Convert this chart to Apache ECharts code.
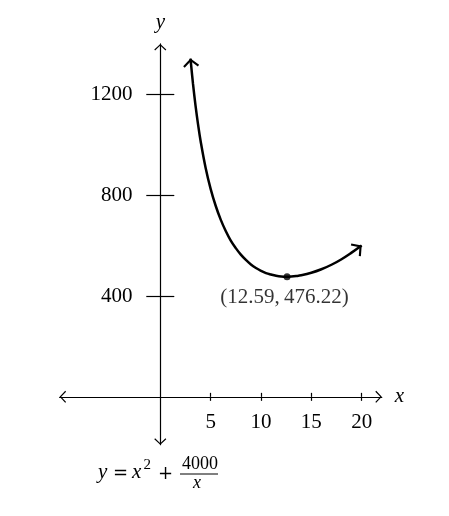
<!DOCTYPE html>
<html><head><meta charset="utf-8">
<script src="https://cdn.jsdelivr.net/npm/echarts@6/dist/echarts.min.js"></script>
<style>html,body{margin:0;padding:0;background:#fff}#c{width:449px;height:516px}</style>
</head><body><div id="c"></div><script>
// ---- data ----
const curveX = [3, 3.25, 3.5, 3.75, 4, 4.5, 5, 5.5, 6, 6.5, 7, 7.5, 8, 8.5, 9, 9.5, 10, 10.5, 11, 11.5, 12, 12.59, 13, 13.5, 14, 15, 16, 17, 18, 19, 20];
const curveY = [1342, 1241, 1155, 1081, 1016, 909, 825, 758, 703, 658, 620, 590, 564, 543, 525, 511, 500, 491, 485, 480, 477, 476.22, 477, 479, 482, 492, 506, 524, 546, 572, 600];
const minPoint = [12.59, 476.22];
const minLabel = '(12.59,\u2009476.22)';
const xTicks = [5, 10, 15, 20];
const yTicks = [400, 800, 1200];
const xRange = [-10, 22];
const yRange = [-190, 1400];

// ---- styling ----
const serif = 'Liberation Serif, Times New Roman, serif';
const axisArrow = 'path://M6,0 L12,5.6 L11.2,6.5 L6,1.6 L0.8,6.5 L0,5.6 Z';
const curveArrow = 'path://M8,0 L16,7 L14.6,8.6 L8,2.8 L1.4,8.6 L0,7 Z';
const axisColor = '#000';
const plain = v => String(v);

function xAx(main) {
  return {
    type: 'value', min: xRange[0], max: xRange[1], position: 'bottom',
    axisLine: { show: main, onZero: true, onZeroAxisIndex: 0,
      symbol: main ? [axisArrow, axisArrow] : 'none', symbolSize: [12, 6.5], symbolOffset: [3.25, -3.25],
      lineStyle: { color: axisColor, width: 1.2 } },
    axisTick: { show: true, inside: !main, length: 4, customValues: xTicks, lineStyle: { color: axisColor, width: 1.2 } },
    axisLabel: { show: main, customValues: xTicks, margin: -33, formatter: plain, color: '#000', fontFamily: serif, fontSize: 21 },
    splitLine: { show: false },
    name: main ? 'x' : '', nameLocation: 'end', nameGap: 13,
    nameTextStyle: { fontFamily: serif, fontStyle: 'italic', fontSize: 21, color: '#000' }
  };
}
function yAx(main) {
  return {
    type: 'value', min: yRange[0], max: yRange[1], position: 'left',
    axisLine: { show: main, onZero: true, onZeroAxisIndex: 0,
      symbol: main ? [axisArrow, axisArrow] : 'none', symbolSize: [12, 6.5], symbolOffset: [3.25, -3.25],
      lineStyle: { color: axisColor, width: 1.2 } },
    axisTick: { show: true, inside: !main, length: 14, customValues: yTicks, lineStyle: { color: axisColor, width: 1.2 } },
    axisLabel: { show: main, customValues: yTicks, margin: -73, formatter: plain, color: '#000', fontFamily: serif, fontSize: 21 },
    splitLine: { show: false },
    name: main ? 'y' : '', nameLocation: 'end', nameGap: 11,
    nameTextStyle: { fontFamily: serif, fontStyle: 'italic', fontSize: 21, color: '#000' }
  };
}

const curveData = curveX.map((x, i) => [x, curveY[i]]);
curveData[0] = { value: curveData[0], symbol: curveArrow, symbolSize: [16, 8.6], symbolRotate: 5.2, symbolOffset: [0.4, 4.3] };
const last = curveData.length - 1;
curveData[last] = { value: curveData[last], symbol: curveArrow, symbolSize: [16, 8.6], symbolRotate: -53.1, symbolOffset: [-3.4, 2.6] };

const chart = echarts.init(document.getElementById('c'), null, { renderer: 'canvas' });
chart.setOption({
  animation: false,
  backgroundColor: '#fff',
  grid: { left: 59.6, right: 67.2, top: 43.9, bottom: 71.25, containLabel: false, outerBoundsMode: 'none' },
  xAxis: [xAx(true), xAx(false)],
  yAxis: [yAx(true), yAx(false)],
  series: [
    { type: 'line', data: curveData, smooth: 0.4, symbol: 'none', showSymbol: true, clip: false,
      lineStyle: { color: '#000', width: 2.5 }, itemStyle: { color: '#000' }, z: 3 },
    { type: 'scatter', data: [minPoint], symbolSize: 7, itemStyle: { color: '#000' }, z: 5,
      label: { show: true, position: 'bottom', distance: 7, offset: [-2.5, 0], formatter: minLabel,
        fontFamily: serif, fontSize: 21, color: '#000' } }
  ],
  graphic: [
    { type: 'text', left: 98, top: 462, style: { text: 'y', font: 'italic 21px ' + serif, fill: '#000' } },
    { type: 'text', left: 113, top: 465, style: { text: '=', font: '18px DejaVu Serif', fill: '#000' } },
    { type: 'text', left: 132, top: 462, style: { text: 'x', font: 'italic 21px ' + serif, fill: '#000' } },
    { type: 'text', left: 143.5, top: 458, style: { text: '2', font: '15px ' + serif, fill: '#000' } },
    { type: 'text', left: 158, top: 465, style: { text: '+', font: '18px DejaVu Serif', fill: '#000' } },
    { type: 'text', left: 182, top: 455, style: { text: '4000', font: '18px ' + serif, fill: '#000' } },
    { type: 'line', shape: { x1: 180, y1: 474, x2: 218, y2: 474 }, style: { stroke: '#000', lineWidth: 1 } },
    { type: 'text', left: 193, top: 474, style: { text: 'x', font: 'italic 18px ' + serif, fill: '#000' } }
  ]
});
</script></body></html>
